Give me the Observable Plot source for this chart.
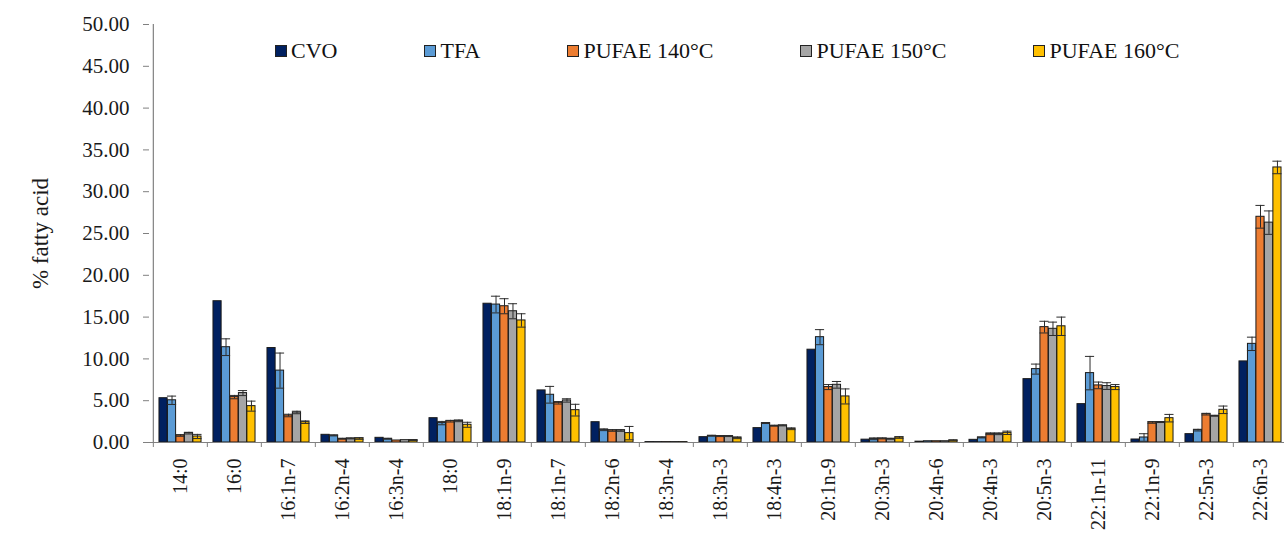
<!DOCTYPE html>
<html><head><meta charset="utf-8">
<script src="https://cdn.jsdelivr.net/npm/d3@7"></script>
<script src="https://cdn.jsdelivr.net/npm/@observablehq/plot@0.6"></script>
<style>
html,body{margin:0;padding:0;background:#fff;overflow:hidden;}
#wrap{position:relative;width:1284px;height:538px;overflow:hidden;}
#legend{position:absolute;top:38px;left:275px;display:flex;gap:87px;font-family:"Liberation Serif",serif;font-size:22px;line-height:25px;color:#111;white-space:nowrap;}
.item{display:flex;align-items:center;}
.sw{width:10px;height:10px;border:1px solid #222;margin-right:4px;}
</style></head><body><div id="wrap"><div id="legend"></div></div>
<script>
const categories = ["14:0","16:0","16:1n-7","16:2n-4","16:3n-4","18:0","18:1n-9","18:1n-7","18:2n-6","18:3n-4","18:3n-3","18:4n-3","20:1n-9","20:3n-3","20:4n-6","20:4n-3","20:5n-3","22:1n-11","22:1n-9","22:5n-3","22:6n-3"];
const seriesNames = ["CVO","TFA","PUFAE 140°C","PUFAE 150°C","PUFAE 160°C"];
const seriesColors = ["#002060","#5B9BD5","#ED7D31","#A5A5A5","#FFC000"];
const yTicks = [0,5,10,15,20,25,30,35,40,45,50];
const yLabel = "% fatty acid";

const cvo  = [5.3, 16.9, 11.3, 0.92, 0.56, 2.91, 16.6, 6.23, 2.43, 0.05, 0.64, 1.72, 11.1, 0.34, 0.1, 0.32, 7.58, 4.59, 0.36, 1.0, 9.7];
const tfa  = [5.05, 11.4, 8.6, 0.84, 0.44, 2.32, 16.5, 5.71, 1.52, 0.05, 0.8, 2.32, 12.6, 0.44, 0.15, 0.6, 8.78, 8.3, 0.6, 1.48, 11.8];
const p140 = [0.84, 5.43, 3.23, 0.44, 0.24, 2.55, 16.3, 4.75, 1.44, 0.05, 0.76, 2.0, 6.63, 0.48, 0.15, 1.04, 13.8, 6.83, 2.4, 3.39, 27.0];
const p150 = [1.12, 5.91, 3.59, 0.48, 0.28, 2.59, 15.7, 5.03, 1.44, 0.05, 0.76, 2.04, 6.9, 0.44, 0.15, 1.04, 13.6, 6.75, 2.44, 3.19, 26.3];
const p160 = [0.72, 4.35, 2.43, 0.48, 0.28, 2.12, 14.6, 3.87, 1.12, 0.05, 0.56, 1.64, 5.51, 0.6, 0.25, 1.16, 13.9, 6.63, 2.91, 3.91, 32.9];

const cvoErr  = [0,0,0,0,0,0,0,0,0,0,0,0,0,0,0,0,0,0,0,0,0];
const tfaErr  = [0.5, 1.0, 2.1, 0.05, 0.05, 0.2, 1.0, 1.0, 0.1, 0, 0.05, 0.05, 0.9, 0.1, 0, 0.05, 0.6, 2.0, 0.45, 0.1, 0.8];
const p140Err = [0.1, 0.2, 0.15, 0.05, 0, 0.1, 0.9, 0.15, 0.1, 0, 0.05, 0.05, 0.3, 0.05, 0, 0.1, 0.7, 0.4, 0.1, 0.1, 1.36];
const p150Err = [0.1, 0.3, 0.15, 0.05, 0, 0.1, 0.9, 0.2, 0.1, 0, 0.05, 0.05, 0.4, 0.05, 0, 0.1, 0.8, 0.4, 0.05, 0.05, 1.4];
const p160Err = [0.25, 0.6, 0.15, 0.1, 0.05, 0.3, 0.8, 0.7, 0.8, 0, 0.1, 0.1, 0.9, 0.1, 0.05, 0.2, 1.1, 0.3, 0.45, 0.45, 0.75];

const seriesValues = [cvo, tfa, p140, p150, p160];
const seriesErrors = [cvoErr, tfaErr, p140Err, p150Err, p160Err];

// layout
const W = 1284, H = 538, mL = 149, mR = -6, mT = 24, mB = 96;
const step = (W - mR - mL) / categories.length;
const groupPad = 0.11 * step;
const barW = (step - 2 * groupPad) / seriesNames.length;
const axisColor = "#808080";
const errColor = "#2b2b2b";

const rows = seriesNames.flatMap((s, j) => categories.map((c, i) => ({cat: c, series: s, j, v: seriesValues[j][i], e: seriesErrors[j][i]})));

const marks = [];
seriesNames.forEach((s, j) => {
  const d = rows.filter(r => r.j === j);
  const insetLeft = groupPad + j * barW;
  const insetRight = step - insetLeft - barW;
  marks.push(Plot.barY(d, {x: "cat", y: "v", fill: seriesColors[j], stroke: "#1a1a1a", strokeWidth: 1, insetLeft, insetRight}));
  const de = d.filter(r => r.e > 0);
  const dx = insetLeft + barW / 2 - step / 2;
  marks.push(Plot.ruleX(de, {x: "cat", y1: r => Math.max(0, r.v - r.e), y2: r => r.v + r.e, dx, stroke: errColor, strokeWidth: 1}));
  marks.push(Plot.tickY(de, {x: "cat", y: r => r.v + r.e, insetLeft: insetLeft - 0.5, insetRight: insetRight - 0.5, stroke: errColor, strokeWidth: 1}));
  marks.push(Plot.tickY(de, {x: "cat", y: r => Math.max(0, r.v - r.e), insetLeft: insetLeft - 0.5, insetRight: insetRight - 0.5, stroke: errColor, strokeWidth: 1}));
});

const chart = Plot.plot({
  width: W, height: H,
  marginLeft: mL, marginRight: mR, marginTop: mT, marginBottom: mB,
  style: {fontFamily: "'Liberation Serif', serif", fontSize: "20px", color: "#1a1a1a", background: "transparent", overflow: "hidden"},
  x: {type: "band", domain: categories, padding: 0, axis: null},
  y: {domain: [0, 50], axis: null},
  marks: [
    Plot.axisY({ticks: yTicks, tickFormat: d => d.toFixed(2), tickSize: 6, tickPadding: 14, fontSize: 21, stroke: axisColor, label: null}),
    Plot.axisX({tickSize: 5, dx: -step / 2, tickFormat: () => "", stroke: axisColor, label: null}),
    Plot.axisX({tickSize: 0, tickRotate: -90, tickPadding: 16, fontSize: 20, label: null}),
    Plot.text([yLabel], {frameAnchor: "left", textAnchor: "middle", rotate: -90, dx: -109, fontSize: 23, fill: "#1a1a1a"}),
    ...marks,
    Plot.ruleX([categories[0]], {dx: -step / 2, y1: 0, y2: 50, stroke: axisColor, strokeWidth: 1.2}),
    Plot.ruleY([0], {stroke: axisColor, strokeWidth: 1.2})
  ]
});
document.getElementById("wrap").prepend(chart);

const legend = document.getElementById("legend");
seriesNames.forEach((s, j) => {
  const item = document.createElement("div");
  item.className = "item";
  const sw = document.createElement("span");
  sw.className = "sw";
  sw.style.background = seriesColors[j];
  const t = document.createElement("span");
  t.textContent = s;
  item.append(sw, t);
  legend.append(item);
});
</script>
</body></html>
